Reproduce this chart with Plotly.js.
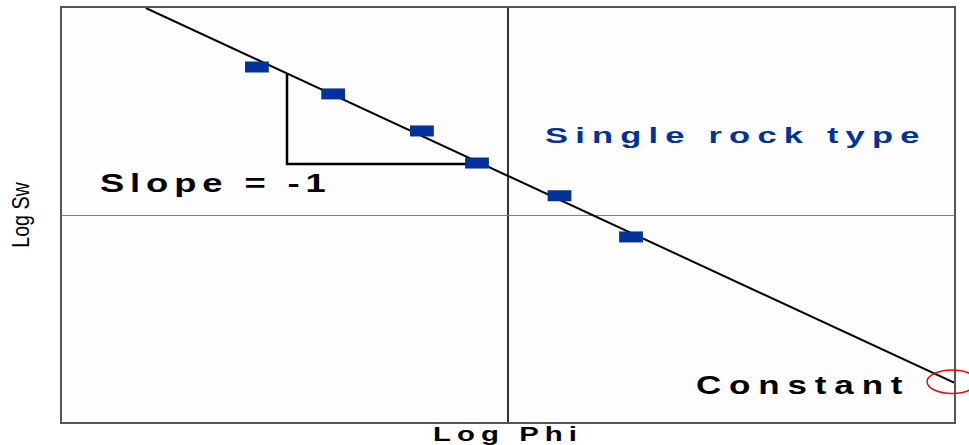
<!DOCTYPE html>
<html>
<head>
<meta charset="utf-8">
<script src="https://cdn.plot.ly/plotly-3.0.1.min.js"></script>
<style>
html,body{margin:0;padding:0;background:#ffffff;}
#chart{width:969px;height:445px;}
g.annotation text.annotation-text{transform-box:fill-box;transform-origin:center;transform:scaleX(1.4);}
g.annotation[data-index="0"] text.annotation-text{letter-spacing:4.2px;}
g.annotation[data-index="1"] text.annotation-text{letter-spacing:4.8px;transform:scaleX(1.5);}
g.annotation[data-index="2"] text.annotation-text{letter-spacing:5.6px;}
text.xtitle{letter-spacing:4.3px;}
</style>
</head>
<body>
<div id="chart"></div>
<script>
// Measured points (log Phi, log Sw) in normalised plot units
const phiPoints = [-0.563, -0.392, -0.193, -0.0695, 0.1155, 0.2758];
const swPoints  = [0.715, 0.585, 0.406, 0.251, 0.093, -0.106];

// Fitted straight line (slope = -1)
const fitPhi = [-0.812, 1.0];
const fitSw  = [1.0, -0.810];

// Slope triangle
const slopePhi = [-0.4955, -0.4955, -0.058];
const slopeSw  = [0.6835, 0.246, 0.246];

// Labels
const labelTexts = ['Slope = -1', 'Single rock type', 'Constant'];
const labelPhi   = [-0.655, 0.511, 0.662];
const labelSw    = [0.155, 0.386, -0.821];

// Constant marker ellipse (paper units)
const constX = [0.9698, 1.0258];
const constY = [0.069, 0.1256];

const axisTitles = {x: 'Log Phi', y: 'Log Sw'};

const traces = [
  {x: fitPhi, y: fitSw, mode: 'lines', line: {color: '#000000', width: 2}, hoverinfo: 'skip', showlegend: false},
  {x: slopePhi, y: slopeSw, mode: 'lines', line: {color: '#000000', width: 2.5}, hoverinfo: 'skip', showlegend: false},
  {x: phiPoints, y: swPoints, mode: 'markers',
   marker: {symbol: 'line-ew', size: 17, color: '#003399', line: {color: '#003399', width: 11}},
   showlegend: false}
];

const labelColors = ['#000000', '#003399', '#000000'];
const labelSizes = [26, 23, 25];
const annotations = labelTexts.map((t, i) => ({
  x: labelPhi[i], y: labelSw[i], xref: 'x', yref: 'y', text: t, showarrow: false,
  xanchor: 'center', yanchor: 'middle',
  font: {family: 'Liberation Sans, Arial, sans-serif', size: labelSizes[i], color: labelColors[i], weight: 'bold'}
}));

const layout = {
  width: 969, height: 445,
  margin: {l: 62, r: 15, t: 8, b: 23, pad: 0},
  paper_bgcolor: '#ffffff',
  plot_bgcolor: '#fdfdfd',
  showlegend: false,
  xaxis: {
    range: [-1, 1], showgrid: false, showticklabels: false, ticks: '',
    zeroline: true, zerolinecolor: '#333333', zerolinewidth: 1.5,
    showline: true, mirror: true, linecolor: '#555555', linewidth: 2,
    fixedrange: true,
    title: {text: axisTitles.x, standoff: 7,
            font: {family: 'Liberation Sans, Arial, sans-serif', size: 21, color: '#000000', weight: 'bold'}}
  },
  yaxis: {
    range: [-1, 1], showgrid: false, showticklabels: false, ticks: '',
    zeroline: true, zerolinecolor: '#808080', zerolinewidth: 1,
    showline: true, mirror: true, linecolor: '#555555', linewidth: 2,
    fixedrange: true,
    title: {text: axisTitles.y, standoff: 24,
            font: {family: 'Liberation Sans, Arial, sans-serif', size: 24, color: '#000000'}}
  },
  annotations: annotations,
  shapes: [{type: 'circle', xref: 'paper', yref: 'paper',
            x0: constX[0], x1: constX[1], y0: constY[0], y1: constY[1],
            line: {color: '#ff0000', width: 1.5}, fillcolor: 'rgba(0,0,0,0)', layer: 'above'}]
};

Plotly.newPlot('chart', traces, layout, {displayModeBar: false, staticPlot: true}).then(function () {
  // condense the vertical axis title along its reading direction
  var t = document.querySelector('text.ytitle');
  if (t) {
    var x = parseFloat(t.getAttribute('x')), y = parseFloat(t.getAttribute('y'));
    t.setAttribute('transform', 'rotate(-90,' + x + ',' + y + ') translate(' + x + ',' + y + ') scale(0.82,1) translate(' + (-x) + ',' + (-y) + ')');
  }
  // widen the horizontal axis title
  var xt = document.querySelector('text.xtitle');
  if (xt) {
    var cx = parseFloat(xt.getAttribute('x')), cy = parseFloat(xt.getAttribute('y'));
    xt.setAttribute('transform', 'translate(' + cx + ',' + cy + ') scale(1.4,1) translate(' + (-cx) + ',' + (-cy) + ')');
  }
});
</script>
</body>
</html>
